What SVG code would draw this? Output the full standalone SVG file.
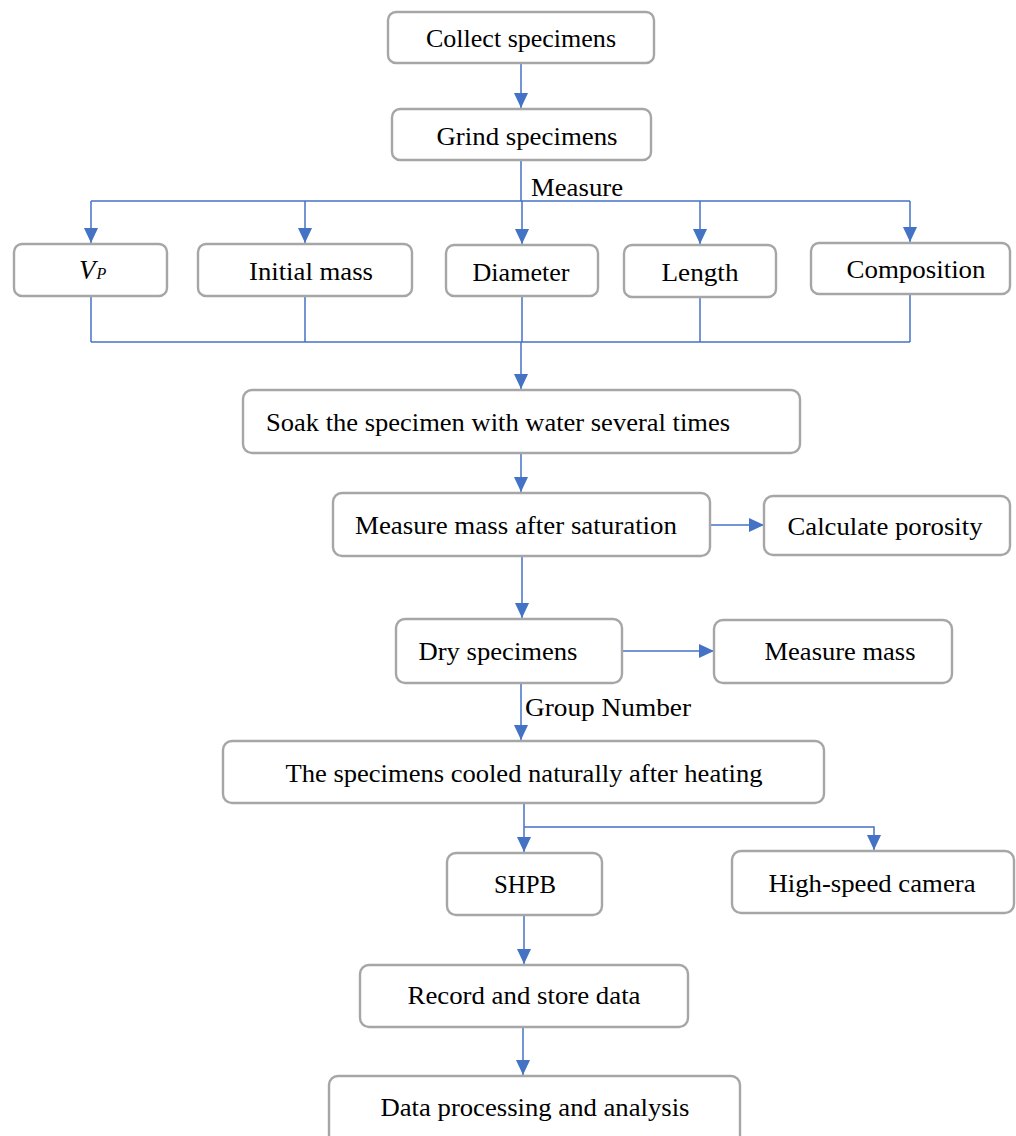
<svg xmlns="http://www.w3.org/2000/svg" width="1016" height="1136" viewBox="0 0 1016 1136">
<style>
.box{fill:#fff;stroke:#a6a6a6;stroke-width:2.4}
.t{font-family:"Liberation Serif","Times New Roman",serif;font-size:25px;fill:#000;text-anchor:middle}
.c{fill:none;stroke:#4472c4;stroke-width:1.5}
.lbl{font-family:"Liberation Serif","Times New Roman",serif;font-size:25px;fill:#000}
</style>
<defs>
<marker id="ah" markerUnits="userSpaceOnUse" markerWidth="15" markerHeight="14" viewBox="0 0 15 14" refX="15" refY="7" orient="auto">
<path d="M0,0 L15,7 L0,14 Z" fill="#4472c4"/>
</marker>
</defs>
<rect width="1016" height="1136" fill="#fff"/>
<g id="connectors">
<line class="c" x1="521" y1="63" x2="521" y2="108" marker-end="url(#ah)"/>
<line class="c" x1="521" y1="160" x2="521" y2="201"/>
<line class="c" x1="91" y1="201" x2="910" y2="201"/>
<line class="c" x1="91" y1="201" x2="91" y2="243" marker-end="url(#ah)"/>
<line class="c" x1="305" y1="201" x2="305" y2="243" marker-end="url(#ah)"/>
<line class="c" x1="522" y1="201" x2="522" y2="244" marker-end="url(#ah)"/>
<line class="c" x1="700" y1="201" x2="700" y2="244" marker-end="url(#ah)"/>
<line class="c" x1="910" y1="201" x2="910" y2="242" marker-end="url(#ah)"/>
<line class="c" x1="91" y1="296" x2="91" y2="342"/>
<line class="c" x1="305" y1="296" x2="305" y2="342"/>
<line class="c" x1="522" y1="296" x2="522" y2="342"/>
<line class="c" x1="700" y1="297" x2="700" y2="342"/>
<line class="c" x1="910" y1="294" x2="910" y2="342"/>
<line class="c" x1="91" y1="342" x2="910" y2="342"/>
<line class="c" x1="521" y1="342" x2="521" y2="389" marker-end="url(#ah)"/>
<line class="c" x1="521" y1="453" x2="521" y2="492" marker-end="url(#ah)"/>
<line class="c" x1="710" y1="525" x2="764" y2="525" marker-end="url(#ah)"/>
<line class="c" x1="522" y1="556" x2="522" y2="618" marker-end="url(#ah)"/>
<line class="c" x1="622" y1="651" x2="714" y2="651" marker-end="url(#ah)"/>
<line class="c" x1="521" y1="683" x2="521" y2="740" marker-end="url(#ah)"/>
<line class="c" x1="524" y1="803" x2="524" y2="852" marker-end="url(#ah)"/>
<polyline class="c" points="524,827 874,827 874,850" marker-end="url(#ah)"/>
<line class="c" x1="524" y1="915" x2="524" y2="964" marker-end="url(#ah)"/>
<line class="c" x1="523" y1="1027" x2="523" y2="1075" marker-end="url(#ah)"/>
<text class="lbl" x="531" y="196" textLength="92" lengthAdjust="spacingAndGlyphs">Measure</text>
<text class="lbl" x="525" y="716" textLength="166" lengthAdjust="spacingAndGlyphs">Group Number</text>
</g>
<g id="n1"><rect class="box" x="388" y="12" width="266" height="51" rx="8"/><text class="t" x="521" y="47" textLength="190" lengthAdjust="spacingAndGlyphs">Collect specimens</text></g>
<g id="n2"><rect class="box" x="392" y="109" width="259" height="51" rx="8"/><text class="t" x="527" y="145" textLength="181" lengthAdjust="spacingAndGlyphs">Grind specimens</text></g>
<g id="n3"><rect class="box" x="14" y="244" width="153" height="52" rx="8"/><text x="79" y="279" font-family="'Liberation Serif','Times New Roman',serif" font-style="italic" font-size="27" fill="#000">V<tspan font-size="16" dx="1">P</tspan></text></g>
<g id="n4"><rect class="box" x="198" y="244" width="214" height="52" rx="8"/><text class="t" x="311" y="280" textLength="124" lengthAdjust="spacingAndGlyphs">Initial mass</text></g>
<g id="n5"><rect class="box" x="446" y="245" width="152" height="51" rx="8"/><text class="t" x="521" y="281" textLength="97" lengthAdjust="spacingAndGlyphs">Diameter</text></g>
<g id="n6"><rect class="box" x="624" y="245" width="152" height="52" rx="8"/><text class="t" x="700" y="281" textLength="77" lengthAdjust="spacingAndGlyphs">Length</text></g>
<g id="n7"><rect class="box" x="811" y="243" width="199" height="51" rx="8"/><text class="t" x="916" y="278" textLength="139" lengthAdjust="spacingAndGlyphs">Composition</text></g>
<g id="n8"><rect class="box" x="243" y="390" width="557" height="63" rx="9"/><text class="t" x="498" y="431" textLength="464" lengthAdjust="spacingAndGlyphs">Soak the specimen with water several times</text></g>
<g id="n9"><rect class="box" x="333" y="493" width="377" height="63" rx="9"/><text class="t" x="516" y="534" textLength="322" lengthAdjust="spacingAndGlyphs">Measure mass after saturation</text></g>
<g id="n10"><rect class="box" x="764" y="496" width="246" height="59" rx="9"/><text class="t" x="885" y="535" textLength="195" lengthAdjust="spacingAndGlyphs">Calculate porosity</text></g>
<g id="n11"><rect class="box" x="396" y="619" width="226" height="64" rx="9"/><text class="t" x="498" y="660" textLength="159" lengthAdjust="spacingAndGlyphs">Dry specimens</text></g>
<g id="n12"><rect class="box" x="714" y="620" width="238" height="63" rx="9"/><text class="t" x="840" y="660" textLength="151" lengthAdjust="spacingAndGlyphs">Measure mass</text></g>
<g id="n13"><rect class="box" x="223" y="741" width="601" height="62" rx="9"/><text class="t" x="524" y="782" textLength="477" lengthAdjust="spacingAndGlyphs">The specimens cooled naturally after heating</text></g>
<g id="n14"><rect class="box" x="447" y="853" width="155" height="62" rx="9"/><text class="t" x="525" y="893" textLength="62" lengthAdjust="spacingAndGlyphs">SHPB</text></g>
<g id="n15"><rect class="box" x="732" y="851" width="282" height="62" rx="9"/><text class="t" x="872" y="892" textLength="207" lengthAdjust="spacingAndGlyphs">High-speed camera</text></g>
<g id="n16"><rect class="box" x="360" y="965" width="328" height="62" rx="9"/><text class="t" x="524" y="1004" textLength="233" lengthAdjust="spacingAndGlyphs">Record and store data</text></g>
<g id="n17"><rect class="box" x="329" y="1076" width="411" height="70" rx="9"/><text class="t" x="535" y="1116" textLength="309" lengthAdjust="spacingAndGlyphs">Data processing and analysis</text></g>
</svg>
